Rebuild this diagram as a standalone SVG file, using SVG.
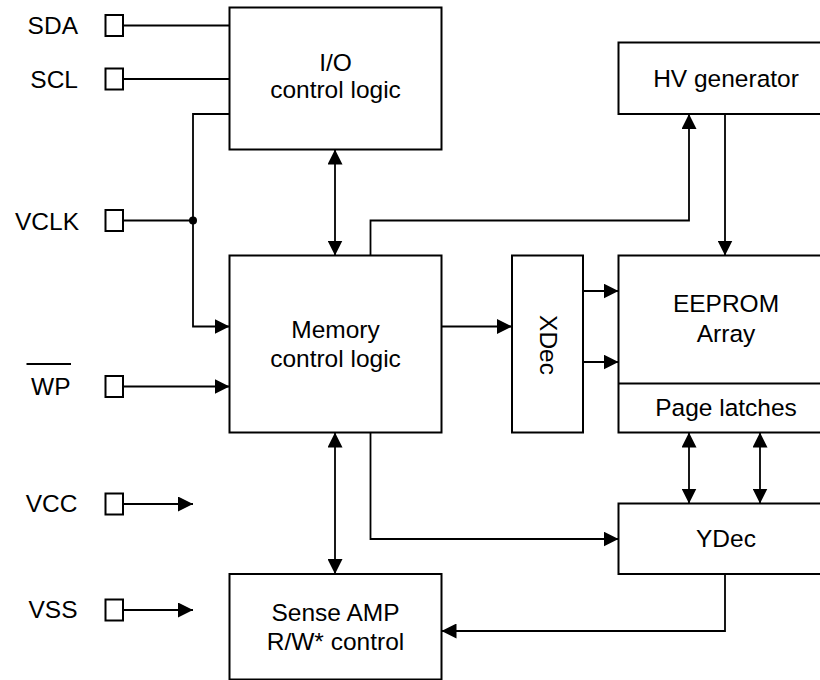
<svg xmlns="http://www.w3.org/2000/svg" width="820" height="680" viewBox="0 0 820 680">
<style>
.box{fill:#fff;stroke:#000;stroke-width:2}
.pad{fill:#fff;stroke:#000;stroke-width:2}
.ln{fill:none;stroke:#000;stroke-width:1.8}
.t{font-family:"Liberation Sans",Arial,sans-serif;font-size:24.5px;fill:#000;text-anchor:middle}
.lbl{font-family:"Liberation Sans",Arial,sans-serif;font-size:24.5px;fill:#000;text-anchor:end}
</style>
<defs>
<marker id="ah" markerUnits="userSpaceOnUse" markerWidth="15" markerHeight="15" refX="15" refY="7.5" orient="auto-start-reverse" viewBox="0 0 15 15">
<path d="M0,0 L15,7.5 L0,15 z" fill="#000"/>
</marker>
</defs>
<rect width="820" height="680" fill="#fff"/>

<g id="connectors">
<line class="ln" x1="123" y1="25.5" x2="229.5" y2="25.5"/>
<line class="ln" x1="123" y1="79" x2="229.5" y2="79"/>
<line class="ln" x1="123" y1="220.5" x2="193" y2="220.5"/>
<circle cx="193" cy="220.5" r="4" fill="#000"/>
<path class="ln" d="M229.5,114 H193 V326.5 H229.5" marker-end="url(#ah)"/>
<line class="ln" x1="123" y1="386.5" x2="229.5" y2="386.5" marker-end="url(#ah)"/>
<line class="ln" x1="123" y1="504" x2="193" y2="504" marker-end="url(#ah)"/>
<line class="ln" x1="123" y1="610" x2="193" y2="610" marker-end="url(#ah)"/>
<line class="ln" x1="335" y1="149.5" x2="335" y2="255.5" marker-start="url(#ah)" marker-end="url(#ah)"/>
<path class="ln" d="M370.5,255.5 V220.5 H689 V114" marker-end="url(#ah)"/>
<line class="ln" x1="725" y1="114" x2="725" y2="255.5" marker-end="url(#ah)"/>
<line class="ln" x1="441.5" y1="326.5" x2="512" y2="326.5" marker-end="url(#ah)"/>
<line class="ln" x1="583" y1="291" x2="618.5" y2="291" marker-end="url(#ah)"/>
<line class="ln" x1="583" y1="362" x2="618.5" y2="362" marker-end="url(#ah)"/>
<line class="ln" x1="689" y1="432.5" x2="689" y2="503.5" marker-start="url(#ah)" marker-end="url(#ah)"/>
<line class="ln" x1="760" y1="432.5" x2="760" y2="503.5" marker-start="url(#ah)" marker-end="url(#ah)"/>
<path class="ln" d="M370.5,432.5 V539 H618.5" marker-end="url(#ah)"/>
<path class="ln" d="M725,574 V631 H441.5" marker-end="url(#ah)"/>
<line class="ln" x1="335" y1="432.5" x2="335" y2="574" marker-start="url(#ah)" marker-end="url(#ah)"/>
</g>

<g id="pin-sda"><rect class="pad" x="105.5" y="15" width="17.5" height="21"/><text class="lbl" x="78" y="33.5">SDA</text></g>
<g id="pin-scl"><rect class="pad" x="105.5" y="68.5" width="17.5" height="21"/><text class="lbl" x="78" y="87.5">SCL</text></g>
<g id="pin-vclk"><rect class="pad" x="105.5" y="210" width="17.5" height="21"/><text class="lbl" x="79" y="229.5">VCLK</text></g>
<g id="pin-wp"><rect class="pad" x="105.5" y="376" width="17.5" height="21"/><text class="lbl" x="70.5" y="394.5">WP</text><line class="ln" x1="26.5" y1="364" x2="71" y2="364"/></g>
<g id="pin-vcc"><rect class="pad" x="105.5" y="493.5" width="17.5" height="21"/><text class="lbl" x="77.5" y="511.5">VCC</text></g>
<g id="pin-vss"><rect class="pad" x="105.5" y="599.5" width="17.5" height="21"/><text class="lbl" x="77.5" y="617.5">VSS</text></g>

<g id="io-control"><rect class="box" x="229.5" y="7.5" width="212" height="142"/><text class="t" x="335.5" y="70.5">I/O</text><text class="t" x="335.5" y="97.5">control logic</text></g>
<g id="memory-control"><rect class="box" x="229.5" y="255.5" width="212" height="177"/><text class="t" x="335.5" y="337.5">Memory</text><text class="t" x="335.5" y="367">control logic</text></g>
<g id="sense-amp"><rect class="box" x="229.5" y="574" width="212" height="105.5"/><text class="t" x="335.5" y="621">Sense AMP</text><text class="t" x="335.5" y="650">R/W* control</text></g>
<g id="xdec"><rect class="box" x="512" y="255.5" width="71" height="177"/><text class="t" transform="translate(539.5,345) rotate(90)">XDec</text></g>
<g id="hv-generator"><rect class="box" x="618.5" y="42.5" width="220" height="71.5"/><text class="t" x="726" y="86.5">HV generator</text></g>
<g id="eeprom-array"><rect class="box" x="618.5" y="255.5" width="220" height="177"/><line class="ln" x1="618.5" y1="383.5" x2="838" y2="383.5"/><text class="t" x="726" y="312">EEPROM</text><text class="t" x="726" y="342">Array</text><text class="t" x="726" y="415.5">Page latches</text></g>
<g id="ydec"><rect class="box" x="618.5" y="503.5" width="220" height="70.5"/><text class="t" x="726" y="547">YDec</text></g>
</svg>
